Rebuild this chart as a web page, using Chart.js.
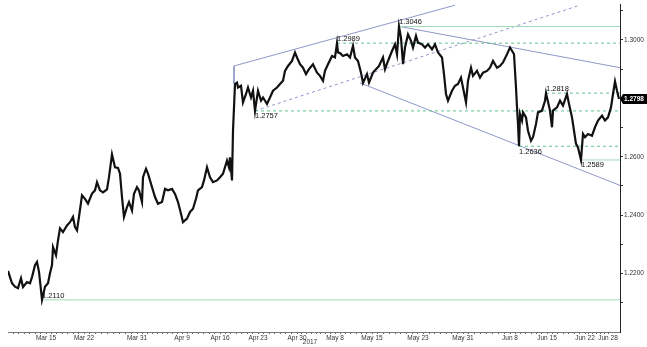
<!DOCTYPE html>
<html>
<head>
<meta charset="utf-8">
<script src="https://cdn.jsdelivr.net/npm/chart.js@4"></script>
<style>
html,body{margin:0;padding:0;background:#fff;}
</style>
</head>
<body>
<canvas id="chart" width="647" height="347"></canvas>
<script>
// trading-time position (t) and close of each bar
const t = [0,4,7,10,13,15,19,22,24,27,29,31,33,34,37,40,42,44,45,48,50,52,55,59,62,65,67,69,71,74,77,80,84,87,89,92,95,99,101,104,107,110,112,114,116,119,121,124,126,129,131,134,135,138,140,144,147,150,154,157,160,164,167,170,173,175,179,182,185,188,190,194,196,199,202,205,209,212,215,219,221,222,224,225,227,229,230,233,235,238,240,243,245,247,250,253,255,259,262,265,269,272,275,277,280,284,287,289,292,295,298,301,305,309,312,315,317,320,324,327,329,330,332,335,339,342,345,347,350,353,355,359,361,365,368,371,375,377,380,384,387,389,391,393,395,397,400,403,405,408,410,414,417,420,424,427,430,434,436,438,440,444,447,450,453,455,458,460,463,465,469,472,475,479,482,485,489,492,495,499,502,505,506,508,509,510,511,512,514,515,518,520,523,525,528,530,534,537,538,542,544,545,549,552,555,559,561,564,566,568,570,573,575,577,580,584,587,590,594,597,600,603,605,607,609,611];
const close = [1.2209,1.2167,1.2155,1.2150,1.2184,1.2154,1.2171,1.2167,1.2188,1.2229,1.2240,1.2206,1.2143,1.2110,1.2155,1.2167,1.2201,1.2229,1.2291,1.2263,1.2314,1.2355,1.2342,1.2365,1.2376,1.2394,1.2359,1.2348,1.2394,1.2468,1.2456,1.2440,1.2474,1.2485,1.2513,1.2485,1.2478,1.2488,1.2530,1.2608,1.2564,1.2562,1.2542,1.2462,1.2394,1.2428,1.2445,1.2416,1.2473,1.2496,1.2485,1.2445,1.2530,1.2559,1.2542,1.2496,1.2462,1.2439,1.2445,1.2490,1.2485,1.2490,1.2473,1.2445,1.2405,1.2376,1.2388,1.2411,1.2422,1.2456,1.2485,1.2496,1.2519,1.2564,1.2530,1.2513,1.2519,1.2530,1.2542,1.2587,1.2564,1.2598,1.2519,1.2689,1.2849,1.2854,1.2837,1.2843,1.2786,1.2815,1.2837,1.2803,1.2826,1.2757,1.2826,1.2792,1.2803,1.2781,1.2803,1.2826,1.2837,1.2849,1.2860,1.2894,1.2911,1.2928,1.2957,1.2940,1.2917,1.2905,1.2883,1.2900,1.2917,1.2888,1.2877,1.2860,1.2894,1.2917,1.2945,1.2940,1.2989,1.2957,1.2955,1.2945,1.2951,1.2940,1.2980,1.2940,1.2928,1.2888,1.2853,1.2883,1.2854,1.2888,1.2900,1.2911,1.2940,1.2900,1.2928,1.2962,1.2985,1.2951,1.3046,1.3008,1.2917,1.2974,1.3019,1.2997,1.2974,1.3014,1.2991,1.2985,1.2974,1.2985,1.2968,1.2985,1.2957,1.2940,1.2883,1.2815,1.2792,1.2826,1.2843,1.2849,1.2871,1.2837,1.2786,1.2860,1.2905,1.2877,1.2894,1.2871,1.2888,1.2894,1.2905,1.2928,1.2905,1.2911,1.2923,1.2951,1.2974,1.2957,1.2951,1.2837,1.2769,1.2712,1.2636,1.2746,1.2724,1.2752,1.2735,1.2689,1.2655,1.2667,1.2712,1.2752,1.2758,1.2792,1.2818,1.2758,1.2701,1.2758,1.2769,1.2792,1.2775,1.2815,1.2781,1.2735,1.2689,1.2644,1.2632,1.2589,1.2678,1.2667,1.2678,1.2672,1.2701,1.2724,1.2741,1.2724,1.2735,1.2769,1.2815,1.2858,1.2826,1.2798];

// marked levels and where they start
const solidLevels = [1.2110, 1.3046, 1.2589];
const solidFrom = [34, 391, 573];
const dashLevels = [1.2757, 1.2989, 1.2818, 1.2636];
const dashFrom = [247, 329, 538, 511];

// channel lines
const channelTop = [{x:226, y:1.2911}, {x:447, y:1.3119}];
const channelBase = [{x:247, y:1.2757}, {x:572, y:1.3119}];
const channelStem = [{x:226, y:1.2911}, {x:226, y:1.2849}];
const fallTop = [{x:392, y:1.3046}, {x:612, y:1.2905}];
const fallBase = [{x:352, y:1.2853}, {x:612, y:1.2502}];

// axes
const xTickPos = [38,76,129,174,212,250,289,327,364,410,455,502,539,577,600];
const xTickLabels = ["Mar 15","Mar 22","Mar 31","Apr 9","Apr 16","Apr 23","Apr 30","May 8","May 15","May 23","May 31","Jun 8","Jun 15","Jun 22","Jun 28"];
const yTickVals = [1.22, 1.24, 1.26, 1.28, 1.30];
const yTickLabels = ["1.2200","1.2400","1.2600","1.2800","1.3000"];
const yearLabel = "2017";
const yearPos = 302;
const tMax = 612;

const FONT = "'Liberation Sans', Arial, sans-serif";
const NARROW = "'Liberation Sans Narrow', 'Liberation Sans', Arial, sans-serif";
const GREEN = "#a0dbb9";
const GREEN_DASH = "#62c28e";
const BLUE = "#8f98c9";

// minor day ticks between the dated ticks
function dayTicks() {
  const dates = xTickLabels.map(l => new Date(l + " 2017"));
  const out = [];
  for (let i = 0; i < xTickPos.length - 1; i++) {
    const days = Math.round((dates[i+1] - dates[i]) / 864e5);
    const step = (xTickPos[i+1] - xTickPos[i]) / days;
    for (let k = 0; k < days; k++) out.push(xTickPos[i] + k * step);
    if (i === 0) for (let v = xTickPos[0] - step; v > 0; v -= step) out.push(v);
  }
  out.push(xTickPos[xTickPos.length - 1]);
  return out.sort((a,b) => a - b);
}

function seg(data, color, dash) {
  return {
    data, borderColor: color, borderWidth: 1, borderDash: dash || [],
    pointRadius: 0, fill: false, order: 1
  };
}

const datasets = [{
  data: t.map((x, i) => ({x, y: close[i]})),
  borderColor: "#111", borderWidth: 2.2, pointRadius: 0,
  tension: 0, fill: false, order: 0
}];
solidLevels.forEach((v, i) => datasets.push(seg([{x: solidFrom[i], y: v}, {x: tMax, y: v}], GREEN)));
dashLevels.forEach((v, i) => datasets.push(seg([{x: dashFrom[i], y: v}, {x: tMax, y: v}], GREEN_DASH, [3, 3])));
datasets.push(seg(channelTop, BLUE));
datasets.push(seg(channelStem, BLUE));
datasets.push(seg(channelBase, BLUE, [3, 3]));
datasets.push(seg(fallTop, BLUE));
datasets.push(seg(fallBase, BLUE));

const labelsBelow = [1.2757, 1.2636, 1.2589];

const overlay = {
  id: "overlay",
  afterDraw(chart) {
    const {ctx, chartArea, scales: {x, y}} = chart;
    ctx.save();
    ctx.font = "7.5px " + FONT;
    ctx.fillStyle = "#111";
    ctx.textAlign = "left";
    const lv = solidLevels.map((v, i) => [v, solidFrom[i]])
      .concat(dashLevels.map((v, i) => [v, dashFrom[i]]));
    lv.forEach(([v, from]) => {
      const px = x.getPixelForValue(from);
      const py = y.getPixelForValue(v);
      if (labelsBelow.includes(v)) {
        ctx.textBaseline = "top";
        ctx.fillText(v.toFixed(4), px, py + 1.5);
      } else {
        ctx.textBaseline = "bottom";
        ctx.fillText(v.toFixed(4), px, py - 0.5);
      }
    });

    // last price box
    const last = close[close.length - 1];
    const by = y.getPixelForValue(last);
    const bx = chartArea.right + 2;
    ctx.fillStyle = "#000";
    ctx.beginPath();
    ctx.moveTo(bx - 2, by);
    ctx.lineTo(bx + 1, by - 5);
    ctx.lineTo(chart.width, by - 5);
    ctx.lineTo(chart.width, by + 5);
    ctx.lineTo(bx + 1, by + 5);
    ctx.closePath();
    ctx.fill();
    ctx.fillStyle = "#fff";
    ctx.font = "bold 6.5px " + FONT;
    ctx.textBaseline = "middle";
    ctx.fillText(last.toFixed(4), bx + 2, by + 0.5);

    // year
    ctx.fillStyle = "#333";
    ctx.font = "6.5px " + NARROW;
    ctx.textAlign = "center";
    ctx.textBaseline = "middle";
    ctx.fillText(yearLabel, x.getPixelForValue(yearPos), 342);
    ctx.restore();
  }
};

const yMinor = [];
for (let v = 1.21; v < 1.311; v += 0.01) yMinor.push(Math.round(v * 100) / 100);

new Chart(document.getElementById("chart"), {
  type: "line",
  data: { datasets },
  options: {
    responsive: false,
    animation: false,
    devicePixelRatio: 1,
    layout: { padding: { left: 8, top: 4, right: 0, bottom: 0 } },
    plugins: { legend: { display: false }, tooltip: { enabled: false } },
    scales: {
      x: {
        type: "linear", min: 0, max: tMax,
        afterBuildTicks: s => { s.ticks = dayTicks().map(v => ({value: v})); },
        afterFit: s => { s.height = 15; },
        ticks: {
          autoSkip: false, maxRotation: 0, padding: 0,
          font: { size: 6.5, family: NARROW }, color: "#333",
          callback: v => {
            const i = xTickPos.indexOf(v);
            return i >= 0 ? xTickLabels[i] : "";
          }
        },
        grid: { drawOnChartArea: false, tickLength: 2, color: "#666" },
        border: { color: "#777" }
      },
      y: {
        position: "right", min: 1.2, max: 1.312,
        afterBuildTicks: s => { s.ticks = yMinor.map(v => ({value: v})); },
        afterFit: s => { s.width = 27; },
        ticks: {
          padding: 1, font: { size: 6.5, family: FONT }, color: "#333",
          callback: v => {
            const i = yTickVals.findIndex(a => Math.abs(a - v) < 1e-6);
            return i >= 0 ? yTickLabels[i] : "";
          }
        },
        grid: { drawOnChartArea: false, tickLength: 3, color: "#333" },
        border: { color: "#222" }
      }
    }
  },
  plugins: [overlay]
});
</script>
</body>
</html>
